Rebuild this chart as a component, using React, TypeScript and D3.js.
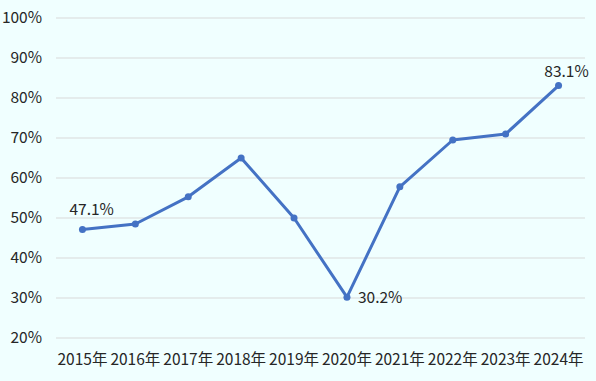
import React from "react";
import * as d3 from "d3";

const categories = ["2015年", "2016年", "2017年", "2018年", "2019年", "2020年", "2021年", "2022年", "2023年", "2024年"];
const values = [47.1, 48.5, 55.3, 65.0, 50.0, 30.2, 57.8, 69.5, 71.0, 83.1];
const yTicks = [20, 30, 40, 50, 60, 70, 80, 90, 100];
const labeled = [
  { i: 0, dx: -13, dy: -15, anchor: "start" },
  { i: 5, dx: 11, dy: 6, anchor: "start" },
  { i: 9, dx: 8, dy: -9, anchor: "middle" },
];

const W = 596;
const H = 381;
const font = "'Noto Sans CJK JP', 'Noto Sans', sans-serif";
const fs = 15.5;
const txt = "#262626";

export default function App() {
  const x = d3.scaleBand<string>().domain(categories).range([56, 585]);
  const y = d3.scaleLinear().domain([20, 100]).range([338, 18]);
  const line = d3
    .line<number>()
    .x((_, i) => (x(categories[i]) as number) + x.bandwidth() / 2)
    .y((d) => y(d));
  return (
    <svg width={W} height={H} style={{ position: "absolute", left: 0, top: 0, background: "#F0FFFF" }}>
      <rect x={0} y={0} width={W} height={H} fill="#F0FFFF" />
      {yTicks.map((t) => (
        <g key={t}>
          <line x1={56} x2={585} y1={y(t)} y2={y(t)} stroke="#D9D9D9" strokeWidth={1} />
          <text x={42} y={y(t)} dy="0.35em" textAnchor="end" fontFamily={font} fontSize={fs} fill={txt}>
            {t}%
          </text>
        </g>
      ))}
      {categories.map((c) => (
        <text key={c} x={(x(c) as number) + x.bandwidth() / 2} y={365} textAnchor="middle" fontFamily={font} fontSize={fs} fill={txt}>
          {c}
        </text>
      ))}
      <path d={line(values) || ""} fill="none" stroke="#4472C4" strokeWidth={3} strokeLinejoin="round" />
      {values.map((v, i) => (
        <circle key={i} cx={(x(categories[i]) as number) + x.bandwidth() / 2} cy={y(v)} r={3.5} fill="#4472C4" />
      ))}
      {labeled.map((l) => (
        <text
          key={l.i}
          x={(x(categories[l.i]) as number) + x.bandwidth() / 2 + l.dx}
          y={y(values[l.i]) + l.dy}
          textAnchor={l.anchor}
          fontFamily={font}
          fontSize={fs}
          fill={txt}
        >
          {values[l.i].toFixed(1)}%
        </text>
      ))}
    </svg>
  );
}
